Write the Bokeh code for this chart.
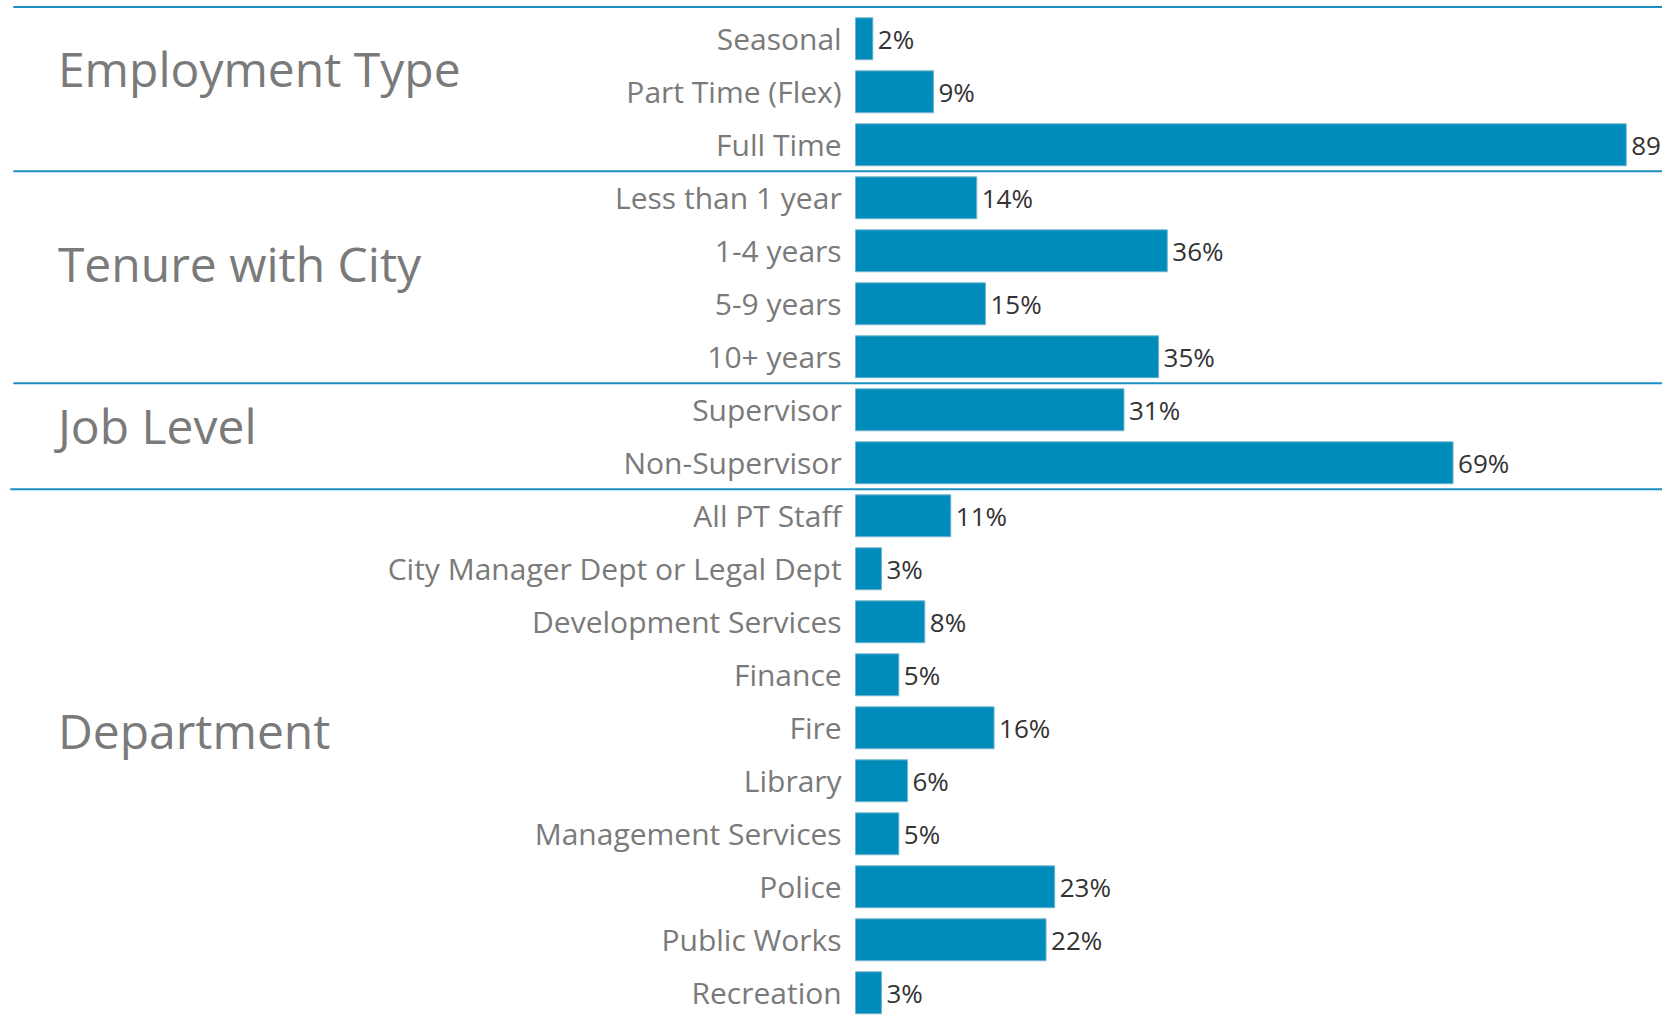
from bokeh.plotting import figure
from bokeh.models import Range1d, ColumnDataSource
from bokeh.core.properties import value
from bokeh.embed import file_html
from bokeh.resources import INLINE

# ---- data ----
groups = ["Employment Type", "Tenure with City", "Job Level", "Department"]
employment_labels = ["Seasonal", "Part Time (Flex)", "Full Time"]
employment_values = [2, 9, 89]
tenure_labels = ["Less than 1 year", "1-4 years", "5-9 years", "10+ years"]
tenure_values = [14, 36, 15, 35]
job_labels = ["Supervisor", "Non-Supervisor"]
job_values = [31, 69]
dept_labels = ["All PT Staff", "City Manager Dept or Legal Dept", "Development Services",
               "Finance", "Fire", "Library", "Management Services", "Police",
               "Public Works", "Recreation"]
dept_values = [11, 3, 8, 5, 16, 6, 5, 23, 22, 3]

group_labels = [employment_labels, tenure_labels, job_labels, dept_labels]
group_values = [employment_values, tenure_values, job_values, dept_values]

labels = [l for g in group_labels for l in g]
values = [v for g in group_values for v in g]
rows = list(range(len(labels)))

# ---- styling ----
BAR = "#008cba"
LINE = "#1a8fc0"
GREY = "#7a7a7a"
DARK = "#333333"
FONT = "Open Sans"

W, H = 1662, 1015
PX_PER_PCT = 8.66
BAR_X0 = 855
ROW_PX = 53.0
ROW0 = 38.3

xr = Range1d(-BAR_X0 / PX_PER_PCT, (W - BAR_X0) / PX_PER_PCT)
yr = Range1d((H - ROW0) / ROW_PX, -ROW0 / ROW_PX)

p = figure(width=W, height=H, x_range=xr, y_range=yr, output_backend="svg",
           toolbar_location=None, min_border=0, outline_line_color=None,
           background_fill_color="white", border_fill_color="white")
p.axis.visible = False
p.grid.visible = False

src = ColumnDataSource(dict(y=rows, v=values, lab=labels,
                            vt=[f"{v}%" for v in values]))

p.hbar(y="y", left=0, right="v", height=0.79, source=src,
       fill_color=BAR, line_color="#6fb3cc", line_width=1)

# category labels
p.text(x=-1.6, y="y", text="lab", source=src, text_align="right",
       text_baseline="middle", text_font=value(FONT), text_font_size="30px",
       text_color=GREY)

# value labels
p.text(x="v", y="y", text="vt", source=src, x_offset=5, text_align="left",
       text_baseline="middle", text_font=value(FONT), text_font_size="26px",
       text_color=DARK)

# separators between groups
sizes = [len(g) for g in group_labels]
bounds = []
c = 0
for s in sizes[:-1]:
    c += s
    bounds.append(c - 0.5)
sep_y = [-0.60] + bounds
sep_x0 = [-97.25, -97.25, -97.25, -97.6]
p.segment(x0=sep_x0, x1=[xr.end] * len(sep_y), y0=sep_y, y1=sep_y,
          line_color=LINE, line_width=2)

# group titles
title_y = [0.56, 4.24, 7.30, 13.05]
p.text(x=[-92.1] * 4, y=title_y, text=groups, text_align="left",
       text_baseline="alphabetic", text_font=value(FONT), text_font_size="48px",
       text_color=GREY)

open("out.html", "w").write(file_html(p, INLINE))
